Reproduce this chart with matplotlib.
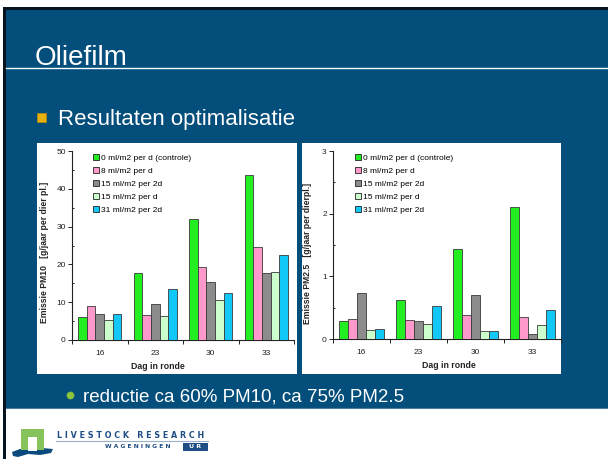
import matplotlib
matplotlib.use("Agg")
import matplotlib.pyplot as plt
from matplotlib.patches import Rectangle, Polygon, Patch
from matplotlib.lines import Line2D
import numpy as np

plt.rcParams['font.family'] = ['Liberation Sans', 'DejaVu Sans']

# ---- data ----
days = ["16", "23", "30", "33"]
series = ["0 ml/m2 per d (controle)", "8 ml/m2 per d", "15 ml/m2 per 2d",
          "15 ml/m2 per d", "31 ml/m2 per 2d"]
colors = ["#22EE22", "#FF99CC", "#8C8C8C", "#CCFFCC", "#11C8F8"]

pm10_control = [6.1, 17.8, 31.9, 43.6]
pm10_8d = [8.9, 6.6, 19.4, 24.6]
pm10_15_2d = [6.8, 9.4, 15.3, 17.6]
pm10_15d = [5.4, 6.4, 10.5, 17.9]
pm10_31_2d = [6.8, 13.6, 12.5, 22.4]

pm25_control = [0.28, 0.62, 1.44, 2.11]
pm25_8d = [0.32, 0.31, 0.38, 0.35]
pm25_15_2d = [0.73, 0.28, 0.71, 0.085]
pm25_15d = [0.15, 0.24, 0.12, 0.23]
pm25_31_2d = [0.165, 0.53, 0.12, 0.47]

W, H = 608, 459
BLUE = "#034E7B"

fig = plt.figure(figsize=(W / 100, H / 100), dpi=100)
fig.patch.set_facecolor("white")


def fx(x):
    return x / W


def fy(y):
    return 1 - y / H


def frect(x0, y0, x1, y1, **kw):
    fig.patches.append(Rectangle((fx(x0), fy(y1)), fx(x1) - fx(x0), fy(y0) - fy(y1),
                                 transform=fig.transFigure, **kw))


# slide background
frect(6, 10, 608, 408, facecolor=BLUE, edgecolor="none", zorder=0)
frect(3, 7, 608, 10, facecolor="#05141E", edgecolor="none", zorder=0)
frect(3, 7, 6, 459, facecolor="#05141E", edgecolor="none", zorder=0)
fig.lines.append(Line2D([fx(6), 1], [fy(408), fy(408)], transform=fig.transFigure,
                        color="#4F7FA0", lw=0.8, zorder=1))

# title and rule
fig.text(fx(35), fy(65), "Oliefilm", color="white", fontsize=20, va="baseline", ha="left")
fig.lines.append(Line2D([fx(6), 1], [fy(68), fy(68)], transform=fig.transFigure,
                        color="white", lw=1.0, zorder=1))

# bullet line
frect(37, 113, 46, 122, facecolor="#E9B10F", edgecolor="#B88A05", lw=0.5, zorder=2)
fig.text(fx(58), fy(125), "Resultaten optimalisatie", color="white", fontsize=16,
         va="baseline", ha="left")

# chart panels
frect(37, 143, 297, 374, facecolor="white", edgecolor="none", zorder=1)
frect(302, 143, 561, 374, facecolor="white", edgecolor="none", zorder=1)

# sub bullet
fig.lines.append(Line2D([fx(70)], [fy(395)], transform=fig.transFigure, marker="o",
                        markersize=5.2, markerfacecolor="#8DC63F",
                        markeredgecolor="#7AB338", markeredgewidth=0.4, zorder=2))
fig.text(fx(83), fy(401), "reductie ca 60% PM10, ca 75% PM2.5", color="white",
         fontsize=13.5, va="baseline", ha="left")


def bar_chart(rect, data, ymax, ystep, yminor, ylabel, ylab_xy, xlab_x):
    ax = fig.add_axes(rect, zorder=3)
    ax.set_facecolor("none")
    n = len(data)
    group = 0.78
    w = group / n
    x = np.arange(len(days)) + 0.5
    for j, vals in enumerate(data):
        ax.bar(x + (j - (n - 1) / 2) * w, vals, width=w, color=colors[j],
               edgecolor="#3A3A3A", linewidth=0.6, zorder=3)
    ax.set_xlim(0, len(days))
    ax.set_ylim(0, ymax)
    ax.set_yticks(np.arange(0, ymax + ystep / 2, ystep))
    ax.set_yticks(np.arange(0, ymax + 1e-9, yminor), minor=True)
    ax.set_yticklabels([f"{v:g}" for v in np.arange(0, ymax + ystep / 2, ystep)])
    ax.tick_params(axis="y", which="major", direction="out", length=3, width=0.7,
                   labelsize=6, pad=1.5, colors="#222222")
    ax.tick_params(axis="y", which="minor", direction="in", length=1.5, width=0.7,
                   colors="#222222")
    ax.set_xticks(np.arange(0, len(days) + 1))
    ax.set_xticklabels([])
    ax.set_xticks(x, minor=True)
    ax.set_xticklabels(days, minor=True)
    ax.tick_params(axis="x", which="major", direction="out", length=3, width=0.7,
                   colors="#222222")
    ax.tick_params(axis="x", which="minor", length=0, labelsize=6, pad=7.5,
                   colors="#222222")
    for s in ("top", "right"):
        ax.spines[s].set_visible(False)
    for s in ("left", "bottom"):
        ax.spines[s].set_linewidth(0.8)
        ax.spines[s].set_color("#222222")
    ax.set_ylabel(ylabel, fontsize=6.2, fontweight="bold", color="#222222")
    ax.yaxis.set_label_coords(*ylab_xy)
    ax.set_xlabel("Dag in ronde", fontsize=6.3, fontweight="bold", color="#222222")
    ax.xaxis.set_label_coords(xlab_x, -0.115)
    handles = [Patch(facecolor=c, edgecolor="#222222", linewidth=0.6) for c in colors]
    ax.legend(handles, series, loc="upper left", bbox_to_anchor=(0.095, 0.985),
              frameon=False, fontsize=6, handlelength=0.75, handleheight=0.75,
              handletextpad=0.25, labelspacing=0.62, borderpad=0, borderaxespad=0)
    return ax


bar_chart([fx(72), fy(340), (294 - 72) / W, (340 - 151) / H],
          [pm10_control, pm10_8d, pm10_15_2d, pm10_15d, pm10_31_2d],
          50, 10, 5, "Emissie PM10   [g/jaar per dier pl.]", (-0.104, 0.466), 0.387)
bar_chart([fx(333), fy(339), (561 - 333) / W, (339 - 151) / H],
          [pm25_control, pm25_8d, pm25_15_2d, pm25_15d, pm25_31_2d],
          3, 1, 0.5, "Emissie PM2.5   [g/jaar per dierpl.]", (-0.092, 0.457), 0.51)

# logo
wave = Polygon([(fx(12), fy(452)), (fx(20), fy(449)), (fx(30), fy(450)), (fx(42), fy(448)),
                (fx(53), fy(449)), (fx(51), fy(453)), (fx(40), fy(455)), (fx(28), fy(454)),
                (fx(18), fy(457)), (fx(13), fy(456))],
               closed=True, transform=fig.transFigure, facecolor="#0B4A7D",
               edgecolor="none", zorder=2)
frect(21, 429, 44, 450, facecolor="#86C35A", edgecolor="none", zorder=3)
frect(28, 437, 37, 450.5, facecolor="white", edgecolor="none", zorder=3)
fig.patches.append(wave)
fig.text(fx(57), fy(435), "L I V E S T O C K   R E S E A R C H", color="#1F4E85",
         fontsize=5.8, fontweight="bold", va="center", ha="left",
         family="DejaVu Sans")
fig.lines.append(Line2D([fx(56), fx(208)], [fy(440.5), fy(440.5)],
                        transform=fig.transFigure, color="#9AB0C8", lw=0.8))
fig.text(fx(105), fy(447), "W A G E N I N G E N", color="#1F4E85", fontsize=4.3,
         fontweight="bold", va="center", ha="left", family="DejaVu Sans")
frect(183, 443, 208, 451, facecolor="#1F4E85", edgecolor="none", zorder=2)
fig.text(fx(195.5), fy(447), "U R", color="white", fontsize=4.5, fontweight="bold",
         va="center", ha="center", family="DejaVu Sans", zorder=4)

fig.savefig("out.png", dpi=100)
